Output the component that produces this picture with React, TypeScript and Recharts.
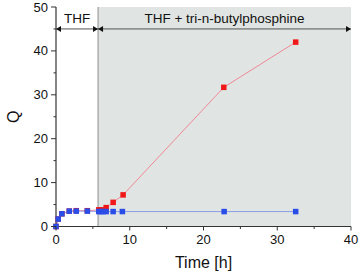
import React from 'react';
import { ComposedChart, Line, XAxis, YAxis, ReferenceArea, ReferenceLine } from 'recharts';

const redTime = [0, 0.3, 0.8, 1.8, 2.75, 4.25, 5.8, 6.3, 6.8, 7.75, 9.1, 22.75, 32.5];
const redQ = [0, 1.7, 2.9, 3.5, 3.6, 3.6, 3.8, 3.8, 4.3, 5.5, 7.2, 31.7, 42.0];
const blueTime = [0, 0.3, 0.8, 1.8, 2.75, 4.25, 5.8, 6.1, 6.4, 6.8, 7.75, 9.0, 22.8, 32.5];
const blueQ = [0, 1.7, 2.9, 3.5, 3.5, 3.5, 3.4, 3.4, 3.4, 3.4, 3.4, 3.4, 3.4, 3.4];

const xTicks = [0, 5, 10, 15, 20, 25, 30, 35, 40];
const yTicks = [0, 5, 10, 15, 20, 25, 30, 35, 40, 45, 50];

const solventSwitch = 5.7;
const arrowLevel = 45;
const labelThf = 'THF';
const labelMix = 'THF + tri-n-butylphosphine';

const redData = redTime.map((t, i) => ({ t, q: redQ[i] }));
const blueData = blueTime.map((t, i) => ({ t, q: blueQ[i] }));

const FONT = '"Liberation Sans", Arial, sans-serif';
const AXIS = '#333';

const XTick = (props: any) => {
  const { x, y, payload } = props;
  const major = payload.value % 10 === 0;
  return (
    <g>
      <line x1={x} x2={x} y1={y} y2={y + (major ? 4 : 2.5)} stroke={AXIS} strokeWidth={1} />
      {major && (
        <text x={x} y={y + 17} textAnchor="middle" fontSize={13} fontFamily={FONT} fill="#111">
          {payload.value}
        </text>
      )}
    </g>
  );
};

const YTick = (props: any) => {
  const { x, y, payload } = props;
  const major = payload.value % 10 === 0;
  return (
    <g>
      <line x1={x} x2={x - (major ? 5 : 2.5)} y1={y} y2={y} stroke={AXIS} strokeWidth={1} />
      {major && (
        <text x={x - 8} y={y + 4.5} textAnchor="end" fontSize={13} fontFamily={FONT} fill="#111">
          {payload.value}
        </text>
      )}
    </g>
  );
};

const makeSquare = (color: string, size: number) => (props: any) => {
  const { cx, cy, index } = props;
  if (cx == null || cy == null) return <g key={index} />;
  return <rect key={index} x={cx - size / 2} y={cy - size / 2} width={size} height={size} fill={color} />;
};

const makeArrow = (label: string) => (props: any) => {
  const { x1, y1, x2, y2 } = props;
  const l = 5;
  const h = 3;
  const mid = (x1 + x2) / 2;
  return (
    <g>
      <line x1={x1} y1={y1} x2={x2} y2={y2} stroke="#555" strokeWidth={1} />
      <polygon points={`${x1},${y1} ${x1 + l},${y1 - h} ${x1 + l},${y1 + h}`} fill="#111" />
      <polygon points={`${x2},${y2} ${x2 - l},${y2 - h} ${x2 - l},${y2 + h}`} fill="#111" />
      <text x={mid} y={y1 - 6} textAnchor="middle" fontSize={13.5} fontFamily={FONT} fill="#111">
        {label}
      </text>
    </g>
  );
};

const YLabel = (props: any) => {
  const vb = props.viewBox || { x: 0, y: 7, width: 56, height: 219.5 };
  const cx = vb.x + 13;
  const cy = vb.y + vb.height / 2;
  return (
    <text
      x={cx}
      y={cy}
      transform={`rotate(-90, ${cx}, ${cy})`}
      textAnchor="middle"
      dominantBaseline="central"
      fontSize={16}
      fontFamily={FONT}
      fill="#111"
    >
      Q
    </text>
  );
};

export default function App() {
  return (
    <div style={{ position: 'absolute', left: 0, top: 0, background: '#fff' }}>
      <ComposedChart width={360} height={275} margin={{ top: 7, right: 9, left: 0, bottom: 0 }}>
        <ReferenceArea
          x1={solventSwitch}
          x2={40}
          y1={0}
          y2={50}
          fill="#e0e4e2"
          fillOpacity={1}
          stroke="none"
        />
        <ReferenceLine x={solventSwitch} stroke="#8e8e8e" strokeWidth={1} />
        <XAxis
          type="number"
          dataKey="t"
          domain={[0, 40]}
          ticks={xTicks}
          interval={0}
          height={48.5}
          tickLine={false}
          tickSize={0}
          tickMargin={0}
          axisLine={{ stroke: AXIS, strokeWidth: 1.2 }}
          tick={<XTick />}
          allowDuplicatedCategory={false}
          label={{
            value: 'Time [h]',
            position: 'insideBottom',
            offset: 7,
            fontSize: 16,
            fontFamily: FONT,
            fill: '#111',
          }}
        />
        <YAxis
          type="number"
          domain={[0, 50]}
          ticks={yTicks}
          interval={0}
          width={56}
          tickLine={false}
          tickSize={0}
          tickMargin={0}
          axisLine={{ stroke: AXIS, strokeWidth: 1.2 }}
          tick={<YTick />}
          label={<YLabel />}
        />
        <ReferenceLine
          segment={[
            { x: 0, y: arrowLevel },
            { x: solventSwitch, y: arrowLevel },
          ]}
          shape={makeArrow(labelThf)}
        />
        <ReferenceLine
          segment={[
            { x: solventSwitch, y: arrowLevel },
            { x: 40, y: arrowLevel },
          ]}
          shape={makeArrow(labelMix)}
        />
        <Line
          data={redData}
          dataKey="q"
          type="linear"
          stroke="#f08898"
          strokeWidth={1}
          dot={makeSquare('#f01818', 5.5)}
          activeDot={false}
          isAnimationActive={false}
        />
        <Line
          data={blueData}
          dataKey="q"
          type="linear"
          stroke="#8c9ce6"
          strokeWidth={1}
          dot={makeSquare('#2a4de8', 5.5)}
          activeDot={false}
          isAnimationActive={false}
        />
      </ComposedChart>
    </div>
  );
}
